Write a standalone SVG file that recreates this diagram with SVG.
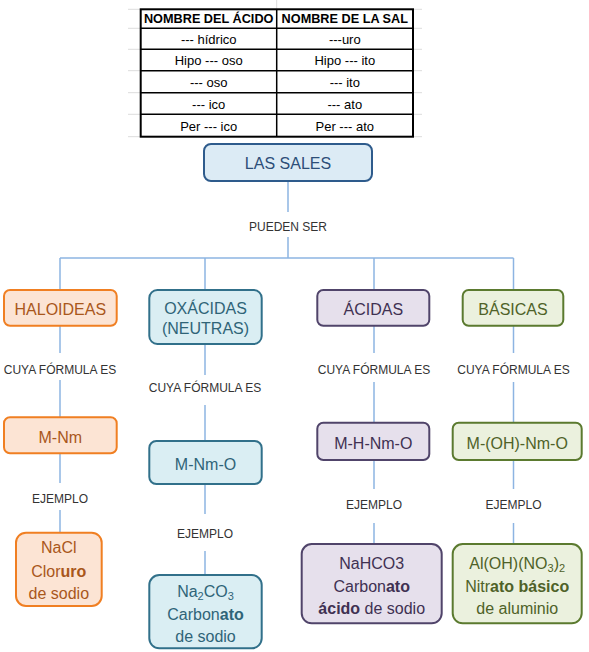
<svg xmlns="http://www.w3.org/2000/svg" width="589" height="652" viewBox="0 0 589 652">
<style>
text{font-family:"Liberation Sans",Arial,sans-serif}
.th{font-size:12.7px;font-weight:bold;fill:#000;text-anchor:middle}
.td{font-size:13px;fill:#000;text-anchor:middle}
.lbl{font-size:12px;fill:#333;text-anchor:middle}
.nt{font-size:16px;text-anchor:middle}
.b{font-weight:bold}
.grid{stroke:#dcdcdc;stroke-width:1;fill:none}
.tb{stroke:#000;fill:none}
.conn line{stroke:#8db4e2;stroke-width:1.5}
.blue rect{fill:#dcebf5;stroke:#2e5b8c;stroke-width:2}
.blue text{fill:#2d4e78}
.org rect{fill:#fce4d4;stroke:#f07f22;stroke-width:2}
.org text{fill:#a9571b}
.teal rect{fill:#daeef3;stroke:#31708a;stroke-width:2}
.teal text{fill:#2f6478}
.pur rect{fill:#e6e0ec;stroke:#50446a;stroke-width:2}
.pur text{fill:#403152}
.grn rect{fill:#ebf1de;stroke:#5b7a2f;stroke-width:2}
.grn text{fill:#4f6228}
</style>
<rect width="589" height="652" fill="#fff"/>
<g id="table">
<path class="grid" d="M128 9.3H422M128 28.3H422M128 49.3H422M128 70.7H422M128 92.7H422M128 114.3H422M128 136.7H422M276.7 0V9.3"/>
<rect x="140.7" y="9.3" width="272.3" height="127.4" fill="#fff"/>
<path class="tb" stroke-width="1.5" d="M140.7 28.3H413M140.7 49.3H413M140.7 70.7H413M140.7 92.7H413M140.7 114.3H413M276.7 9.3V136.7"/>
<rect class="tb" stroke-width="2" x="140.7" y="9.3" width="272.3" height="127.4"/>
<text class="th" x="208.7" y="23.2">NOMBRE DEL ÁCIDO</text>
<text class="th" x="344.8" y="23.2">NOMBRE DE LA SAL</text>
<text class="td" x="208.7" y="43.5">--- hídrico</text>
<text class="td" x="344.8" y="43.5">---uro</text>
<text class="td" x="208.7" y="65">Hipo --- oso</text>
<text class="td" x="344.8" y="65">Hipo --- ito</text>
<text class="td" x="208.7" y="87">--- oso</text>
<text class="td" x="344.8" y="87">--- ito</text>
<text class="td" x="208.7" y="108.7">--- ico</text>
<text class="td" x="344.8" y="108.7">--- ato</text>
<text class="td" x="208.7" y="130.7">Per --- ico</text>
<text class="td" x="344.8" y="130.7">Per --- ato</text>
</g>
<g id="connectors" class="conn">
<line x1="288" y1="181" x2="288" y2="212"/>
<line x1="288" y1="237" x2="288" y2="258"/>
<line x1="60" y1="258" x2="513.5" y2="258"/>
<line x1="60" y1="258" x2="60" y2="290"/>
<line x1="205" y1="258" x2="205" y2="290"/>
<line x1="374" y1="258" x2="374" y2="290"/>
<line x1="513.5" y1="258" x2="513.5" y2="290"/>
<line x1="60" y1="326" x2="60" y2="353"/>
<line x1="60" y1="380" x2="60" y2="417"/>
<line x1="60" y1="453" x2="60" y2="483"/>
<line x1="60" y1="510" x2="60" y2="532"/>
<line x1="205" y1="344" x2="205" y2="375"/>
<line x1="205" y1="405" x2="205" y2="441"/>
<line x1="205" y1="484" x2="205" y2="514"/>
<line x1="205" y1="551" x2="205" y2="575"/>
<line x1="374" y1="326" x2="374" y2="353"/>
<line x1="374" y1="382" x2="374" y2="423"/>
<line x1="374" y1="460" x2="374" y2="489"/>
<line x1="374" y1="523" x2="374" y2="544"/>
<line x1="513.5" y1="326" x2="513.5" y2="353"/>
<line x1="513.5" y1="382" x2="513.5" y2="423"/>
<line x1="513.5" y1="460" x2="513.5" y2="489"/>
<line x1="513.5" y1="523" x2="513.5" y2="544"/>
</g>
<g id="labels">
<text class="lbl" x="288" y="231">PUEDEN SER</text>
<text class="lbl" x="60" y="374">CUYA FÓRMULA ES</text>
<text class="lbl" x="205" y="392">CUYA FÓRMULA ES</text>
<text class="lbl" x="374" y="374">CUYA FÓRMULA ES</text>
<text class="lbl" x="513.5" y="374">CUYA FÓRMULA ES</text>
<text class="lbl" x="60" y="503">EJEMPLO</text>
<text class="lbl" x="205" y="538">EJEMPLO</text>
<text class="lbl" x="374" y="509">EJEMPLO</text>
<text class="lbl" x="513.5" y="509">EJEMPLO</text>
</g>
<g id="las-sales" class="blue">
<rect x="204" y="144" width="168" height="37" rx="7"/>
<text class="nt" x="288" y="168.5">LAS SALES</text>
</g>
<g id="haloideas" class="org">
<rect x="4" y="290" width="112.7" height="35.7" rx="6"/>
<text class="nt" x="60.3" y="315">HALOIDEAS</text>
</g>
<g id="oxacidas" class="teal">
<rect x="149.3" y="290" width="112.4" height="54" rx="8"/>
<text class="nt" x="205.5" y="313.5">OXÁCIDAS</text>
<text class="nt" x="205.5" y="334">(NEUTRAS)</text>
</g>
<g id="acidas" class="pur">
<rect x="317.3" y="290" width="112" height="35.7" rx="6"/>
<text class="nt" x="373.3" y="315">ÁCIDAS</text>
</g>
<g id="basicas" class="grn">
<rect x="462.7" y="290" width="100.6" height="35.7" rx="6"/>
<text class="nt" x="513" y="315">BÁSICAS</text>
</g>
<g id="m-nm" class="org">
<rect x="4" y="417.3" width="112.7" height="36" rx="6"/>
<text class="nt" x="60.3" y="443">M-Nm</text>
</g>
<g id="m-nm-o" class="teal">
<rect x="149.3" y="441" width="112.4" height="43" rx="7"/>
<text class="nt" x="205.5" y="470">M-Nm-O</text>
</g>
<g id="m-h-nm-o" class="pur">
<rect x="317.3" y="422.7" width="112" height="37.3" rx="6"/>
<text class="nt" x="373.3" y="449">M-H-Nm-O</text>
</g>
<g id="m-oh-nm-o" class="grn">
<rect x="452.7" y="422.7" width="129" height="37.3" rx="6"/>
<text class="nt" x="517.2" y="449">M-(OH)-Nm-O</text>
</g>
<g id="nacl" class="org">
<rect x="16" y="532.7" width="85.7" height="73.3" rx="10"/>
<text class="nt" x="58.8" y="553">NaCl</text>
<text class="nt" x="58.8" y="577">Clor<tspan class="b">uro</tspan></text>
<text class="nt" x="58.8" y="599">de sodio</text>
</g>
<g id="na2co3" class="teal">
<rect x="149.3" y="575" width="112.4" height="73.3" rx="10"/>
<text class="nt" x="205.5" y="597">Na<tspan font-size="11" dy="3">2</tspan><tspan dy="-3">CO</tspan><tspan font-size="11" dy="3">3</tspan></text>
<text class="nt" x="205.5" y="620">Carbon<tspan class="b">ato</tspan></text>
<text class="nt" x="205.5" y="642">de sodio</text>
</g>
<g id="nahco3" class="pur">
<rect x="301.7" y="544" width="140" height="79.3" rx="10"/>
<text class="nt" x="371.7" y="568.5">NaHCO3</text>
<text class="nt" x="371.7" y="591.5">Carbon<tspan class="b">ato</tspan></text>
<text class="nt" x="371.7" y="614"><tspan class="b">ácido</tspan> de sodio</text>
</g>
<g id="aloh" class="grn">
<rect x="452.7" y="544" width="129" height="79.3" rx="10"/>
<text class="nt" x="517.2" y="568.5">Al(OH)(NO<tspan font-size="11" dy="3">3</tspan><tspan dy="-3">)</tspan><tspan font-size="11" dy="3">2</tspan></text>
<text class="nt" x="517.2" y="591.5">Nitr<tspan class="b">ato básico</tspan></text>
<text class="nt" x="517.2" y="614">de aluminio</text>
</g>
</svg>
